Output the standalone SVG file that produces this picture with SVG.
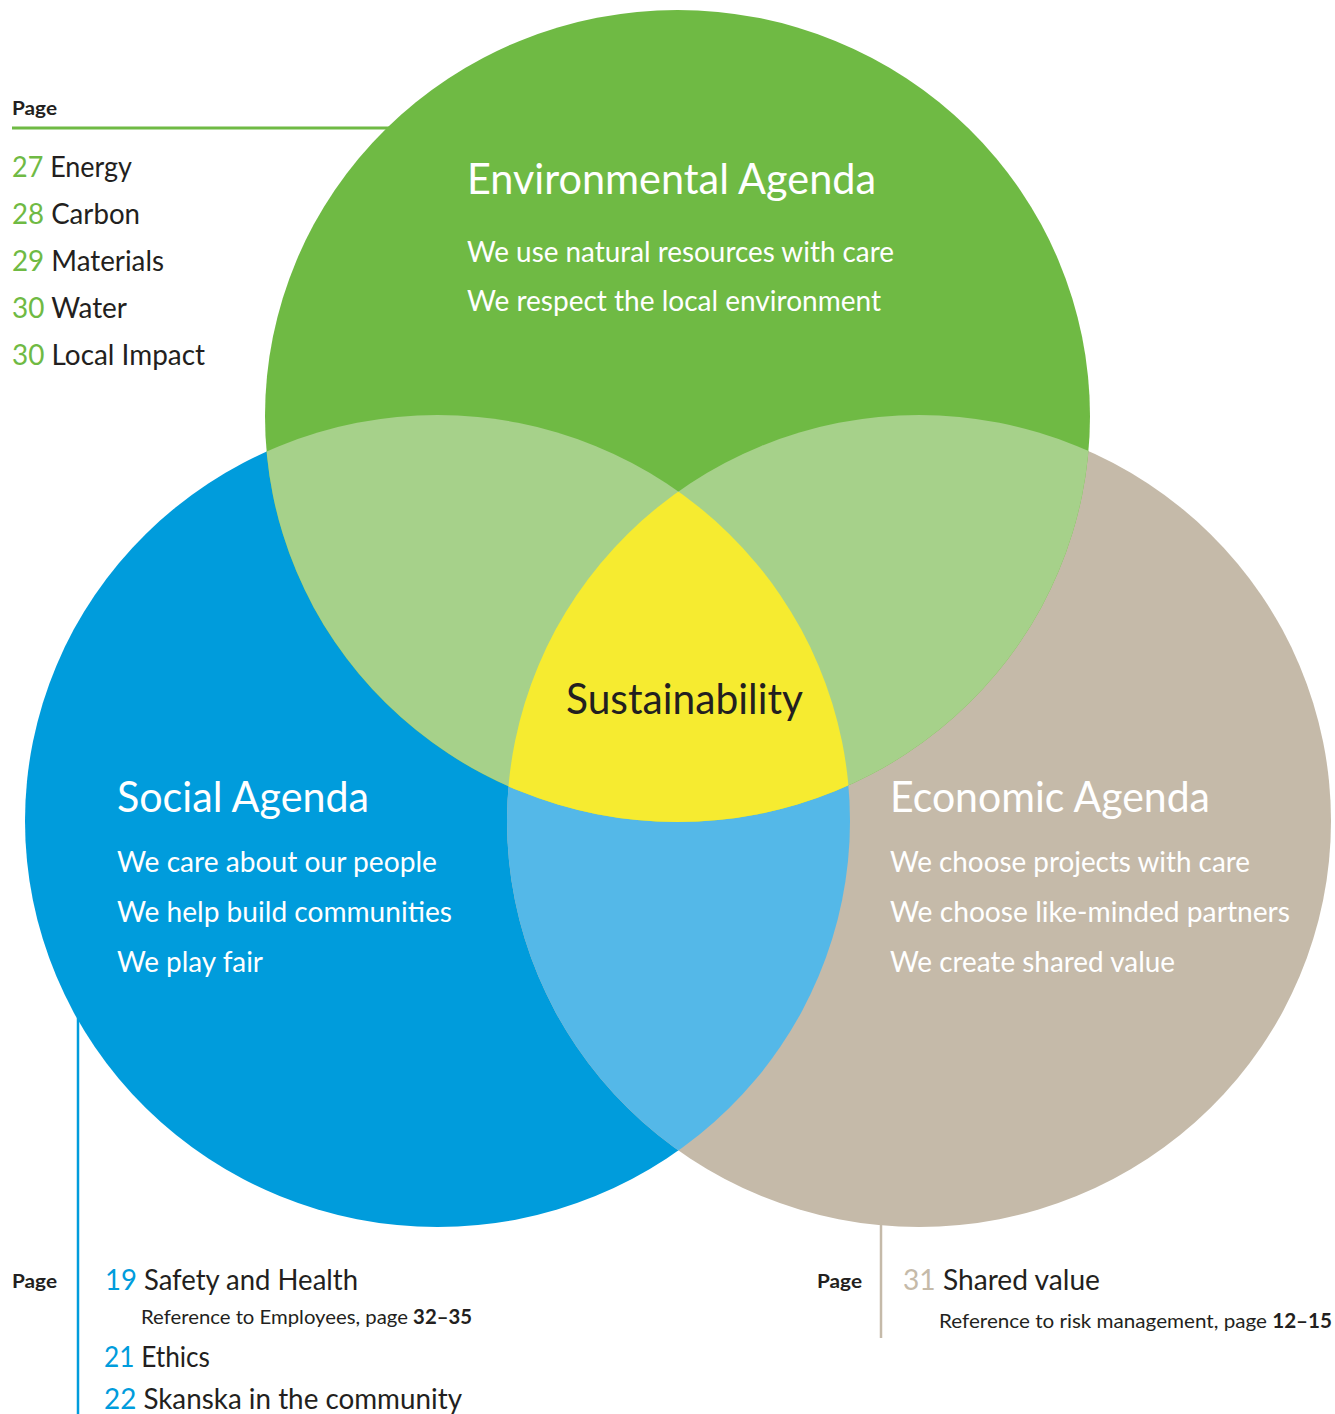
<svg xmlns="http://www.w3.org/2000/svg" width="1335" height="1414" viewBox="0 0 1335 1414">
<style>
text{font-family:Lato,"Open Sans","Liberation Sans",sans-serif;}
.w{fill:#ffffff;}
.d{fill:#231F20;}
.h{font-size:42px;}
.s{font-size:28px;}
.l{font-size:28px;}
.r{font-size:20px;}
.pg{font-size:19px;font-weight:bold;fill:#231F20;}
.g{fill:#6FBA44;}
.b{fill:#009CDC;}
.e{fill:#C5BAA9;}
</style>
<defs>
<clipPath id="cg"><ellipse cx="677.5" cy="416" rx="412.5" ry="406"/></clipPath>
<clipPath id="cb"><ellipse cx="437.5" cy="821" rx="412.5" ry="406"/></clipPath>
</defs>
<g id="connectors">
<line x1="12" y1="128" x2="400" y2="128" stroke="#6FBA44" stroke-width="3"/>
<line x1="78" y1="990" x2="78" y2="1414" stroke="#009CDC" stroke-width="2.5"/>
<line x1="881" y1="1200" x2="881" y2="1338" stroke="#C5BAA9" stroke-width="2.5"/>
</g>
<g id="circles">
<ellipse id="social" cx="437.5" cy="821" rx="412.5" ry="406" fill="#009CDC"/>
<ellipse id="economic" cx="919" cy="821" rx="412" ry="406" fill="#C5BAA9"/>
<ellipse id="social-economic" cx="919" cy="821" rx="412" ry="406" fill="#54B8E8" clip-path="url(#cb)"/>
<ellipse id="environmental" cx="677.5" cy="416" rx="412.5" ry="406" fill="#6FBA44"/>
<g clip-path="url(#cg)">
<ellipse cx="437.5" cy="821" rx="412.5" ry="406" fill="#A6D18A"/>
<ellipse cx="919" cy="821" rx="412" ry="406" fill="#A6D18A"/>
<g clip-path="url(#cb)"><ellipse id="sustainability" cx="919" cy="821" rx="412" ry="406" fill="#F6EB30"/></g>
</g>
</g>
<g id="environmental-text">
<text class="w h" x="467" y="194" textLength="409" lengthAdjust="spacingAndGlyphs">Environmental Agenda</text>
<text class="w s" x="467" y="262" textLength="427" lengthAdjust="spacingAndGlyphs">We use natural resources with care</text>
<text class="w s" x="467" y="311" textLength="414" lengthAdjust="spacingAndGlyphs">We respect the local environment</text>
</g>
<g id="sustainability-text">
<text class="d h" x="566" y="714" textLength="237" lengthAdjust="spacingAndGlyphs">Sustainability</text>
</g>
<g id="social-text">
<text class="w h" x="117" y="812" textLength="252" lengthAdjust="spacingAndGlyphs">Social Agenda</text>
<text class="w s" x="117" y="872" textLength="320" lengthAdjust="spacingAndGlyphs">We care about our people</text>
<text class="w s" x="117" y="922" textLength="335" lengthAdjust="spacingAndGlyphs">We help build communities</text>
<text class="w s" x="117" y="972" textLength="146" lengthAdjust="spacingAndGlyphs">We play fair</text>
</g>
<g id="economic-text">
<text class="w h" x="890" y="812" textLength="320" lengthAdjust="spacingAndGlyphs">Economic Agenda</text>
<text class="w s" x="890" y="872" textLength="360" lengthAdjust="spacingAndGlyphs">We choose projects with care</text>
<text class="w s" x="890" y="922" textLength="400" lengthAdjust="spacingAndGlyphs">We choose like-minded partners</text>
<text class="w s" x="890" y="972" textLength="285" lengthAdjust="spacingAndGlyphs">We create shared value</text>
</g>
<g id="environmental-pages">
<text class="pg" x="12" y="115" textLength="45" lengthAdjust="spacingAndGlyphs">Page</text>
<text class="l d" x="12" y="177" textLength="120" lengthAdjust="spacingAndGlyphs"><tspan class="g">27</tspan> Energy</text>
<text class="l d" x="12" y="224" textLength="128" lengthAdjust="spacingAndGlyphs"><tspan class="g">28</tspan> Carbon</text>
<text class="l d" x="12" y="271" textLength="152" lengthAdjust="spacingAndGlyphs"><tspan class="g">29</tspan> Materials</text>
<text class="l d" x="12" y="318" textLength="115" lengthAdjust="spacingAndGlyphs"><tspan class="g">30</tspan> Water</text>
<text class="l d" x="12" y="365" textLength="193" lengthAdjust="spacingAndGlyphs"><tspan class="g">30</tspan> Local Impact</text>
</g>
<g id="social-pages">
<text class="pg" x="12" y="1288" textLength="45" lengthAdjust="spacingAndGlyphs">Page</text>
<text class="l d" x="105" y="1290" textLength="253" lengthAdjust="spacingAndGlyphs"><tspan class="b">19</tspan> Safety and Health</text>
<text class="r d" x="141" y="1324" textLength="331" lengthAdjust="spacingAndGlyphs">Reference to Employees, page <tspan font-weight="bold">32–35</tspan></text>
<text class="l d" x="104" y="1367" textLength="106" lengthAdjust="spacingAndGlyphs"><tspan class="b">21</tspan> Ethics</text>
<text class="l d" x="104" y="1409" textLength="358" lengthAdjust="spacingAndGlyphs"><tspan class="b">22</tspan> Skanska in the community</text>
</g>
<g id="economic-pages">
<text class="pg" x="817" y="1288" textLength="45" lengthAdjust="spacingAndGlyphs">Page</text>
<text class="l d" x="903" y="1290" textLength="197" lengthAdjust="spacingAndGlyphs"><tspan class="e">31</tspan> Shared value</text>
<text class="r d" x="939" y="1328" textLength="393" lengthAdjust="spacingAndGlyphs">Reference to risk management, page <tspan font-weight="bold">12–15</tspan></text>
</g>
</svg>
